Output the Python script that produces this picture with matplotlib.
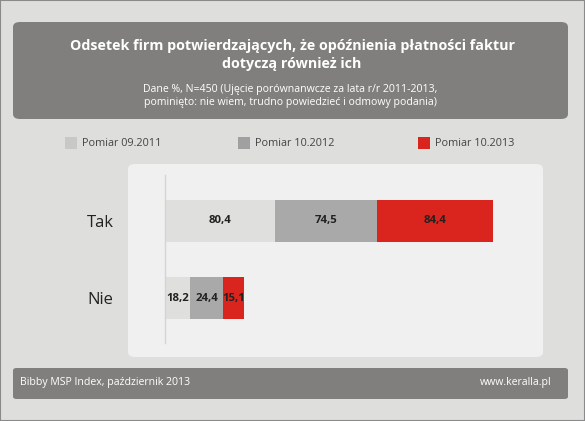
import matplotlib
matplotlib.use("Agg")
import matplotlib.pyplot as plt
from matplotlib.patches import FancyBboxPatch, Rectangle

plt.rcParams['font.family'] = ['Open Sans', 'DejaVu Sans']

categories = ["Tak", "Nie"]
series_names = ["Pomiar 09.2011", "Pomiar 10.2012", "Pomiar 10.2013"]
values_2011 = [80.4, 18.2]
values_2012 = [74.5, 24.4]
values_2013 = [84.4, 15.1]
value_labels = [["80,4", "18,2"], ["74,5", "24,4"], ["84,4", "15,1"]]
colors = ["#dfdfdd", "#a9a9a9", "#d9251d"]
legend_colors = ["#c8c8c6", "#a0a0a0", "#d9251d"]

title = "Odsetek firm potwierdzających, że opóźnienia płatności faktur\ndotyczą również ich"
subtitle = "Dane %, N=450 (Ujęcie porównanwcze za lata r/r 2011-2013,\npominięto: nie wiem, trudno powiedzieć i odmowy podania)"
footer_left = "Bibby MSP Index, październik 2013"
footer_right = "www.keralla.pl"

W, H = 585, 421
fig = plt.figure(figsize=(W / 100, H / 100), dpi=100)
fig.patch.set_facecolor("#dededc")

def fx(x):
    return x / W

def fy(y):
    return 1 - y / H

# outer border
fig.patches.append(Rectangle((0, 0), 1, 1, transform=fig.transFigure, fill=False,
                             edgecolor="#8a8a8a", linewidth=1.5, zorder=0))

# header box
fig.patches.append(FancyBboxPatch((fx(13), fy(119)), fx(555), (119 - 22) / H,
                                  boxstyle="round,pad=0,rounding_size=0.012",
                                  transform=fig.transFigure, facecolor="#807f7d",
                                  edgecolor="none", zorder=0))
fig.text(fx(292), fy(55), title, color="white", fontsize=10.3, fontweight="bold",
         ha="center", va="center", linespacing=1.42)
fig.text(fx(290), fy(96), subtitle, color="white", fontsize=7.6,
         ha="center", va="center", linespacing=1.3)

# legend
leg_sq = [65, 238, 418]
for sx, name, c in zip(leg_sq, series_names, legend_colors):
    fig.patches.append(Rectangle((fx(sx), fy(149)), fx(12), 12 / H,
                                 transform=fig.transFigure, facecolor=c,
                                 edgecolor="none", zorder=0))
    fig.text(fx(sx + 17), fy(143), name, color="#444444", fontsize=7.8, ha="left", va="center")

# white panel
fig.patches.append(FancyBboxPatch((fx(128), fy(357)), fx(415), (357 - 164) / H,
                                  boxstyle="round,pad=0,rounding_size=0.012",
                                  transform=fig.transFigure, facecolor="#f0f0f0",
                                  edgecolor="none", zorder=0))

# footer
fig.patches.append(FancyBboxPatch((fx(13), fy(399)), fx(555), (399 - 368) / H,
                                  boxstyle="round,pad=0,rounding_size=0.006",
                                  transform=fig.transFigure, facecolor="#807f7d",
                                  edgecolor="none", zorder=0))
fig.text(fx(20), fy(382), footer_left, color="white", fontsize=7.6, ha="left", va="center")
fig.text(fx(551), fy(382), footer_right, color="white", fontsize=7.6, ha="right", va="center")

# bar axes
ax_left, ax_top, ax_bottom, ax_w = 165, 175, 343, 370
ax = fig.add_axes([fx(ax_left), fy(ax_bottom), fx(ax_w), (ax_bottom - ax_top) / H])
ax.set_zorder(5)
ax.set_facecolor("none")
ypos = list(range(len(categories)))
px_per_unit = 77.0
top_off = (221 - ax_top) / px_per_unit
bot_off = (ax_bottom - 298) / px_per_unit
ax.set_ylim(1 + bot_off, -top_off)
ax.set_xlim(0, 270)
bh = 42 / px_per_unit

left = [0.0] * len(categories)
for i, vals in enumerate([values_2011, values_2012, values_2013]):
    ax.barh(ypos, vals, left=left, height=bh, color=colors[i], edgecolor="none")
    for j, v in enumerate(vals):
        ax.text(left[j] + v / 2, ypos[j], value_labels[i][j], ha="center", va="center",
                fontsize=8.2, fontweight="bold", color="#222222")
    left = [l + v for l, v in zip(left, vals)]

for s in ["top", "right", "bottom"]:
    ax.spines[s].set_visible(False)
ax.spines["left"].set_color("#d4d4d4")
ax.spines["left"].set_linewidth(1)
ax.set_xticks([])
ax.set_yticks(ypos)
ax.set_yticklabels(categories, fontsize=12, color="#222222")
ax.tick_params(axis="y", length=0, pad=37)

fig.savefig("out.png", dpi=100, facecolor=fig.get_facecolor())
